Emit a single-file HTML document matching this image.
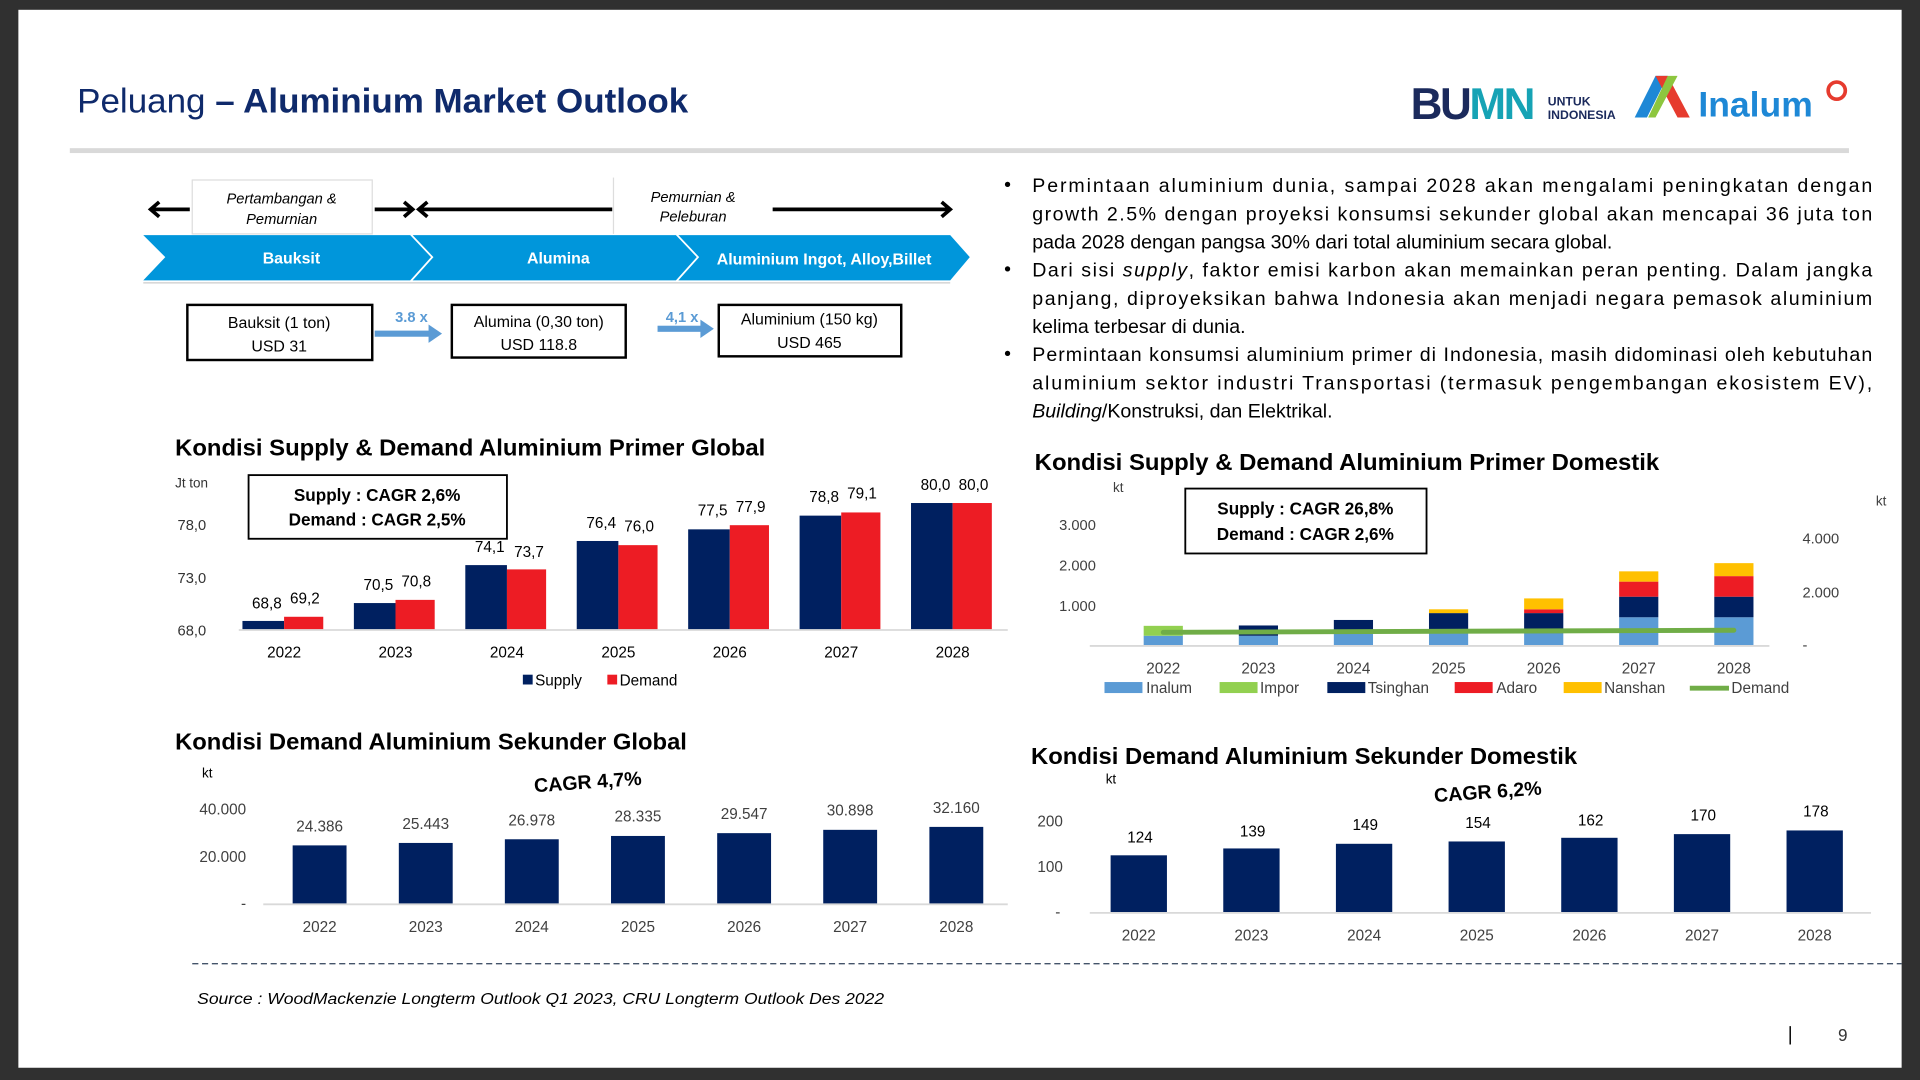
<!DOCTYPE html>
<html><head><meta charset="utf-8"><style>
html,body{margin:0;padding:0;background:#333;}
svg{display:block;}
text{font-family:"Liberation Sans",sans-serif;}
</style></head><body>
<svg width="1920" height="1080" viewBox="0 0 1568 882" xmlns="http://www.w3.org/2000/svg">
<rect x="0" y="0" width="1568" height="882" fill="#303030"/>
<rect x="15" y="8" width="1538" height="864" fill="#fff"/>
<!-- title -->
<text x="63" y="92" font-size="28" fill="#0f2a6b" textLength="499" lengthAdjust="spacingAndGlyphs">Peluang <tspan font-weight="bold">– Aluminium Market Outlook</tspan></text>
<rect x="57" y="121" width="1453" height="4" fill="#d9d9d9"/>
<!-- logos -->
<text x="1152" y="97" font-size="36" font-weight="bold" fill="#1b2a5c" letter-spacing="-2">BU<tspan fill="#16a3b5">MN</tspan></text>
<text x="1264" y="86" font-size="10" font-weight="bold" fill="#1b2a5c">UNTUK</text>
<text x="1264" y="97" font-size="10" font-weight="bold" fill="#1b2a5c">INDONESIA</text>
<polygon points="1335,96 1352,62 1362,62 1345,96" fill="#1e88d6"/>
<polygon points="1352,62 1362,62 1380,96 1370,96" fill="#e63b2e"/>
<polygon points="1362,62 1370,62 1352,96 1346,96" fill="#8dc63f"/>
<text x="1387" y="95" font-size="29" font-weight="bold" fill="#1e88d6">Inalum</text>
<circle cx="1500" cy="74" r="7" fill="none" stroke="#e63b2e" stroke-width="3"/>
<!-- diagram -->
<g stroke="#000" stroke-width="3" fill="none">
<line x1="123" y1="171" x2="155" y2="171"/><polyline points="130,165 123,171 130,177"/>
<line x1="306" y1="171" x2="336" y2="171"/><polyline points="330,165 337,171 330,177"/>
<line x1="342" y1="171" x2="500" y2="171"/><polyline points="349,165 342,171 349,177"/>
<line x1="631" y1="171" x2="776" y2="171"/><polyline points="769,165 776,171 769,177"/>
</g>
<rect x="157" y="147" width="147" height="44" fill="#fff" stroke="#ddd"/>
<line x1="501" y1="145" x2="501" y2="191" stroke="#ddd"/>
<text x="230" y="166" font-size="12" font-style="italic" text-anchor="middle">Pertambangan &amp;</text>
<text x="230" y="183" font-size="12" font-style="italic" text-anchor="middle">Pemurnian</text>
<text x="566" y="165" font-size="12" font-style="italic" text-anchor="middle">Pemurnian &amp;</text>
<text x="566" y="181" font-size="12" font-style="italic" text-anchor="middle">Peleburan</text>
<polygon points="117,192 335,192 352,210 335,229 117,229 135,210" fill="#0096db"/>
<polygon points="337,192 552,192 569,210 552,229 337,229 354,210" fill="#0096db"/>
<polygon points="554,192 776,192 792,210 776,229 554,229 571,210" fill="#0096db"/>
<line x1="117" y1="231" x2="776" y2="231" stroke="#ccc"/>
<text x="238" y="215" font-size="13" font-weight="bold" fill="#fff" text-anchor="middle">Bauksit</text>
<text x="456" y="215" font-size="13" font-weight="bold" fill="#fff" text-anchor="middle">Alumina</text>
<text x="673" y="216" font-size="13" font-weight="bold" fill="#fff" text-anchor="middle">Aluminium Ingot, Alloy,Billet</text>
<rect x="153" y="249" width="151" height="45" fill="#fff" stroke="#000" stroke-width="2"/>
<rect x="369" y="249" width="142" height="43" fill="#fff" stroke="#000" stroke-width="2"/>
<rect x="587" y="249" width="149" height="42" fill="#fff" stroke="#000" stroke-width="2"/>
<text x="228" y="268" font-size="13" text-anchor="middle">Bauksit (1 ton)</text>
<text x="228" y="287" font-size="13" text-anchor="middle">USD 31</text>
<text x="440" y="267" font-size="13" text-anchor="middle">Alumina (0,30 ton)</text>
<text x="440" y="286" font-size="13" text-anchor="middle">USD 118.8</text>
<text x="661" y="265" font-size="13" text-anchor="middle">Aluminium (150 kg)</text>
<text x="661" y="284" font-size="13" text-anchor="middle">USD 465</text>
<rect x="306" y="270" width="45" height="5" fill="#5b9bd5"/><polygon points="350,265 361,272.5 350,280" fill="#5b9bd5"/>
<rect x="537" y="266" width="36" height="5" fill="#5b9bd5"/><polygon points="572,261 583,268.5 572,276" fill="#5b9bd5"/>
<text x="336" y="263" font-size="12" font-weight="bold" fill="#5b9bd5" text-anchor="middle">3.8 x</text>
<text x="557" y="263" font-size="12" font-weight="bold" fill="#5b9bd5" text-anchor="middle">4,1 x</text>
<!-- bullets -->
<g font-size="16" fill="#000">
<text x="820" y="156">•</text><text x="820" y="225">•</text><text x="820" y="294">•</text>
<text x="843" y="157" textLength="686" lengthAdjust="spacing">Permintaan aluminium dunia, sampai 2028 akan mengalami peningkatan dengan</text>
<text x="843" y="180" textLength="686" lengthAdjust="spacing">growth 2.5% dengan proyeksi konsumsi sekunder global akan mencapai 36 juta ton</text>
<text x="843" y="203">pada 2028 dengan pangsa 30% dari total aluminium secara global.</text>
<text x="843" y="226" textLength="686" lengthAdjust="spacing">Dari sisi <tspan font-style="italic">supply</tspan>, faktor emisi karbon akan memainkan peran penting. Dalam jangka</text>
<text x="843" y="249" textLength="686" lengthAdjust="spacing">panjang, diproyeksikan bahwa Indonesia akan menjadi negara pemasok aluminium</text>
<text x="843" y="272">kelima terbesar di dunia.</text>
<text x="843" y="295" textLength="686" lengthAdjust="spacing">Permintaan konsumsi aluminium primer di Indonesia, masih didominasi oleh kebutuhan</text>
<text x="843" y="318" textLength="686" lengthAdjust="spacing">aluminium sektor industri Transportasi (termasuk pengembangan ekosistem EV),</text>
<text x="843" y="341"><tspan font-style="italic">Building</tspan>/Konstruksi, dan Elektrikal.</text>
</g>
<!-- chart 1 -->
<text x="143" y="372" font-size="19" font-weight="bold" textLength="482" lengthAdjust="spacingAndGlyphs">Kondisi Supply &amp; Demand Aluminium Primer Global</text>
<g font-size="12" fill="#333">
<text x="143" y="398" font-size="11">Jt ton</text>
<text x="145" y="433">78,0</text><text x="145" y="476">73,0</text><text x="145" y="519">68,0</text>
</g>
<rect x="203" y="388" width="211" height="52" fill="#fff" stroke="#000" stroke-width="1.5"/>
<text x="308" y="409" font-size="14" font-weight="bold" text-anchor="middle">Supply : CAGR 2,6%</text>
<text x="308" y="429" font-size="14" font-weight="bold" text-anchor="middle">Demand : CAGR 2,5%</text>
<g fill="#002060">
<rect x="198" y="507.1" width="34" height="6.9"/><rect x="289" y="492.5" width="34" height="21.5"/><rect x="380" y="461.5" width="34" height="52.5"/><rect x="471" y="441.8" width="34" height="72.2"/><rect x="562" y="432.3" width="34" height="81.7"/><rect x="653" y="421.1" width="34" height="92.9"/><rect x="744" y="410.8" width="34" height="103.2"/>
</g>
<g fill="#ed1c24">
<rect x="232" y="503.7" width="32" height="10.3"/><rect x="323" y="489.9" width="32" height="24.1"/><rect x="414" y="465" width="32" height="49"/><rect x="505" y="445.2" width="32" height="68.8"/><rect x="596" y="428.9" width="32" height="85.1"/><rect x="687" y="418.5" width="32" height="95.5"/><rect x="778" y="410.8" width="32" height="103.2"/>
</g>
<line x1="195" y1="514.5" x2="823" y2="514.5" stroke="#d9d9d9" stroke-width="1.5"/>
<g font-size="12.5" text-anchor="middle" fill="#000">
<text x="218" y="497">68,8</text><text x="249" y="493">69,2</text>
<text x="309" y="482">70,5</text><text x="340" y="479">70,8</text>
<text x="400" y="451">74,1</text><text x="432" y="455">73,7</text>
<text x="491" y="431">76,4</text><text x="522" y="434">76,0</text>
<text x="582" y="421">77,5</text><text x="613" y="418">77,9</text>
<text x="673" y="410">78,8</text><text x="704" y="407">79,1</text>
<text x="764" y="400">80,0</text><text x="795" y="400">80,0</text>
<text x="232" y="537">2022</text><text x="323" y="537">2023</text><text x="414" y="537">2024</text><text x="505" y="537">2025</text><text x="596" y="537">2026</text><text x="687" y="537">2027</text><text x="778" y="537">2028</text>
</g>
<rect x="427" y="551" width="8" height="8" fill="#002060"/><text x="437" y="560" font-size="12.5">Supply</text>
<rect x="496" y="551" width="8" height="8" fill="#ed1c24"/><text x="506" y="560" font-size="12.5">Demand</text>
<!-- chart 2 -->
<text x="845" y="384" font-size="19" font-weight="bold" textLength="510" lengthAdjust="spacingAndGlyphs">Kondisi Supply &amp; Demand Aluminium Primer Domestik</text>
<g font-size="12" fill="#404040">
<text x="909" y="402" font-size="11">kt</text><text x="1532" y="413" font-size="11">kt</text>
<text x="895" y="433" text-anchor="end">3.000</text><text x="895" y="466" text-anchor="end">2.000</text><text x="895" y="499" text-anchor="end">1.000</text><text x="895" y="531" text-anchor="end">-</text>
<text x="1472" y="444">4.000</text><text x="1472" y="488">2.000</text><text x="1472" y="531">-</text>
</g>
<rect x="968" y="399" width="197" height="53" fill="#fff" stroke="#000" stroke-width="1.5"/>
<text x="1066" y="420" font-size="14" font-weight="bold" text-anchor="middle">Supply : CAGR 26,8%</text>
<text x="1066" y="441" font-size="14" font-weight="bold" text-anchor="middle">Demand : CAGR 2,6%</text>
<g fill="#5b9bd5">
<rect x="934" y="519.2" width="32" height="7.8"/><rect x="1011.7" y="519.2" width="32" height="7.8"/><rect x="1089.3" y="514.4" width="32" height="12.6"/><rect x="1167" y="513.8" width="32" height="13.2"/><rect x="1244.7" y="517.1" width="32" height="9.9"/><rect x="1322.3" y="504.1" width="32" height="22.9"/><rect x="1400" y="504.1" width="32" height="22.9"/>
</g>
<rect x="934" y="511.1" width="32" height="8.1" fill="#92d050"/>
<g fill="#002060">
<rect x="1011.7" y="510.8" width="32" height="8.4"/><rect x="1089.3" y="506.3" width="32" height="8.1"/><rect x="1167" y="500.7" width="32" height="13.1"/><rect x="1244.7" y="500.7" width="32" height="16.4"/><rect x="1322.3" y="487.3" width="32" height="16.8"/><rect x="1400" y="487.3" width="32" height="16.8"/>
</g>
<g fill="#ed1c24"><rect x="1244.7" y="497.6" width="32" height="3.1"/><rect x="1322.3" y="475" width="32" height="12.3"/><rect x="1400" y="470.5" width="32" height="16.8"/></g>
<g fill="#ffc000"><rect x="1167" y="497.6" width="32" height="3.1"/><rect x="1244.7" y="488.7" width="32" height="8.9"/><rect x="1322.3" y="466.6" width="32" height="8.4"/><rect x="1400" y="459.9" width="32" height="10.6"/></g>
<line x1="890" y1="527.5" x2="1445" y2="527.5" stroke="#d9d9d9" stroke-width="1.5"/>
<line x1="950" y1="516.4" x2="1416" y2="514.7" stroke="#70ad47" stroke-width="4" stroke-linecap="round"/>
<g font-size="12.5" text-anchor="middle" fill="#404040">
<text x="950" y="550">2022</text><text x="1027.7" y="550">2023</text><text x="1105.3" y="550">2024</text><text x="1183" y="550">2025</text><text x="1260.7" y="550">2026</text><text x="1338.3" y="550">2027</text><text x="1416" y="550">2028</text>
</g>
<g font-size="12.5" fill="#404040">
<rect x="902" y="557" width="31" height="9" fill="#5b9bd5"/><text x="936" y="566">Inalum</text>
<rect x="996" y="557" width="31" height="9" fill="#92d050"/><text x="1029" y="566">Impor</text>
<rect x="1084" y="557" width="31" height="9" fill="#002060"/><text x="1117" y="566">Tsinghan</text>
<rect x="1188" y="557" width="31" height="9" fill="#ed1c24"/><text x="1222" y="566">Adaro</text>
<rect x="1277" y="557" width="31" height="9" fill="#ffc000"/><text x="1310" y="566">Nanshan</text>
<line x1="1380" y1="562" x2="1412" y2="562" stroke="#70ad47" stroke-width="4"/><text x="1414" y="566">Demand</text>
</g>
<!-- chart 3 -->
<text x="143" y="612" font-size="19" font-weight="bold" textLength="418" lengthAdjust="spacingAndGlyphs">Kondisi Demand Aluminium Sekunder Global</text>
<text x="165" y="635" font-size="11">kt</text>
<text x="480" y="644" font-size="16" font-weight="bold" text-anchor="middle" transform="rotate(-4 480 638)">CAGR 4,7%</text>
<g font-size="12.5" fill="#404040" text-anchor="end">
<text x="201" y="665">40.000</text><text x="201" y="704">20.000</text><text x="201" y="742">-</text>
</g>
<g fill="#002060">
<rect x="239" y="690.4" width="44" height="47.6"/><rect x="325.7" y="688.4" width="44" height="49.6"/><rect x="412.3" y="685.4" width="44" height="52.6"/><rect x="499" y="682.7" width="44" height="55.3"/><rect x="585.7" y="680.4" width="44" height="57.6"/><rect x="672.3" y="677.7" width="44" height="60.3"/><rect x="759" y="675.3" width="44" height="62.7"/>
</g>
<line x1="215" y1="738.5" x2="823" y2="738.5" stroke="#d9d9d9" stroke-width="1.5"/>
<g font-size="12.5" text-anchor="middle" fill="#404040">
<text x="261" y="679">24.386</text><text x="347.7" y="677">25.443</text><text x="434.3" y="674">26.978</text><text x="521" y="671">28.335</text><text x="607.7" y="669">29.547</text><text x="694.3" y="666">30.898</text><text x="781" y="664">32.160</text>
<text x="261" y="761">2022</text><text x="347.7" y="761">2023</text><text x="434.3" y="761">2024</text><text x="521" y="761">2025</text><text x="607.7" y="761">2026</text><text x="694.3" y="761">2027</text><text x="781" y="761">2028</text>
</g>
<!-- chart 4 -->
<text x="842" y="624" font-size="19" font-weight="bold" textLength="446" lengthAdjust="spacingAndGlyphs">Kondisi Demand Aluminium Sekunder Domestik</text>
<text x="903" y="640" font-size="11">kt</text>
<text x="1215" y="652" font-size="16" font-weight="bold" text-anchor="middle" transform="rotate(-4 1215 646)">CAGR 6,2%</text>
<g font-size="12.5" fill="#404040" text-anchor="end">
<text x="868" y="675">200</text><text x="868" y="712">100</text><text x="866" y="749">-</text>
</g>
<g fill="#002060">
<rect x="907" y="698.5" width="46" height="46.5"/><rect x="999" y="692.9" width="46" height="52.1"/><rect x="1091" y="689.1" width="46" height="55.9"/><rect x="1183" y="687.2" width="46" height="57.8"/><rect x="1275" y="684.2" width="46" height="60.8"/><rect x="1367" y="681.2" width="46" height="63.8"/><rect x="1459" y="678.2" width="46" height="66.8"/>
</g>
<line x1="890" y1="745.5" x2="1528" y2="745.5" stroke="#d9d9d9" stroke-width="1.5"/>
<g font-size="12.5" text-anchor="middle" fill="#404040">
<text x="931" y="688" fill="#000">124</text><text x="1023" y="683" fill="#000">139</text><text x="1115" y="678" fill="#000">149</text><text x="1207" y="676" fill="#000">154</text><text x="1299" y="674" fill="#000">162</text><text x="1391" y="670" fill="#000">170</text><text x="1483" y="667" fill="#000">178</text>
<text x="930" y="768">2022</text><text x="1022" y="768">2023</text><text x="1114" y="768">2024</text><text x="1206" y="768">2025</text><text x="1298" y="768">2026</text><text x="1390" y="768">2027</text><text x="1482" y="768">2028</text>
</g>
<!-- footer -->
<line x1="157" y1="787" x2="1553" y2="787" stroke="#44546a" stroke-width="1.2" stroke-dasharray="5,3"/>
<text x="161" y="820" font-size="13" font-style="italic" textLength="561" lengthAdjust="spacingAndGlyphs">Source : WoodMackenzie Longterm Outlook Q1 2023, CRU Longterm Outlook Des 2022</text>
<line x1="1462" y1="838" x2="1462" y2="853" stroke="#000" stroke-width="1.2"/>
<text x="1501" y="850" font-size="14" fill="#333">9</text>
</svg>
</body></html>
